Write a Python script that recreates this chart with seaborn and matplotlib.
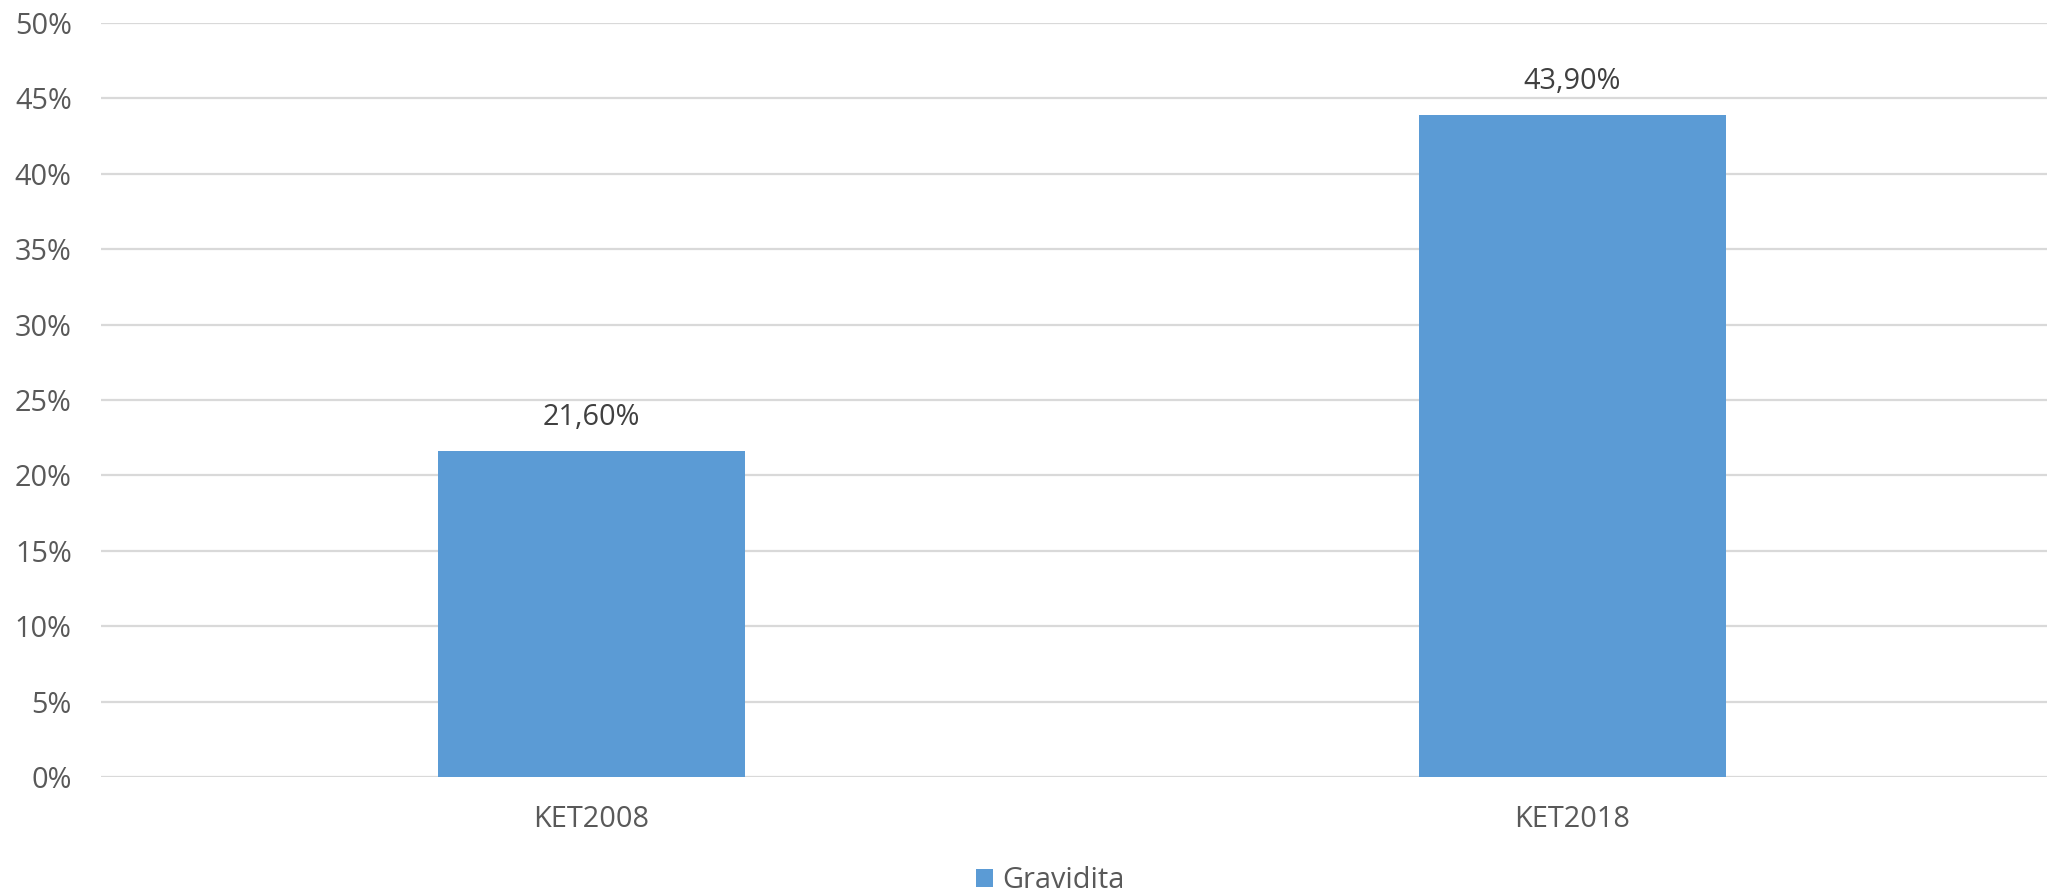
import matplotlib
matplotlib.use("Agg")
import matplotlib.pyplot as plt
import seaborn as sns
import pandas as pd
from matplotlib.ticker import FuncFormatter, MultipleLocator
from matplotlib.patches import Patch

categories = ["KET2008", "KET2018"]
values = [0.216, 0.439]
series_name = "Gravidita"
value_labels = ["21,60%", "43,90%"]

sns.set_theme(style="white")
plt.rcParams['font.family'] = ['Open Sans', 'DejaVu Sans']

df = pd.DataFrame({"cat": categories, "val": values})

fig = plt.figure(figsize=(20.47, 8.94), dpi=100)
ax = fig.add_axes([101/2047, 117/894, 1 - 101/2047, (777-23)/894])

sns.barplot(data=df, x="cat", y="val", color="#5B9BD5", saturation=1,
            width=0.313, ax=ax, zorder=3, edgecolor="none")

ax.set_ylim(0, 0.5)
ax.set_xlim(-0.5, 1.484)
ax.yaxis.set_major_locator(MultipleLocator(0.05))
ax.yaxis.set_major_formatter(FuncFormatter(lambda v, p: f"{round(v*100)}%"))
ax.grid(axis="y", color="#d9d9d9", linewidth=1.6, zorder=0)
ax.set_axisbelow(True)
for s in ax.spines.values():
    s.set_visible(False)
ax.set_xlabel("")
ax.set_ylabel("")
ax.tick_params(axis="y", length=0, pad=21, labelsize=20.8, labelcolor="#595959")
ax.tick_params(axis="x", length=0, pad=20, labelsize=20.8, labelcolor="#595959")

for i, (v, lab) in enumerate(zip(values, value_labels)):
    ax.annotate(lab, (i, v), xytext=(0, 14), textcoords="offset points",
                ha="center", va="bottom", fontsize=20.8, color="#404040")

handles = [Patch(facecolor="#5B9BD5", edgecolor="none", label=series_name)]
fig.legend(handles=handles, loc="center", bbox_to_anchor=(1050/2047, 1 - 881/894),
           frameon=False, fontsize=20.8, handlelength=0.6, handleheight=0.6,
           handletextpad=0.3, labelcolor="#595959")

fig.savefig("out.png", dpi=100)
